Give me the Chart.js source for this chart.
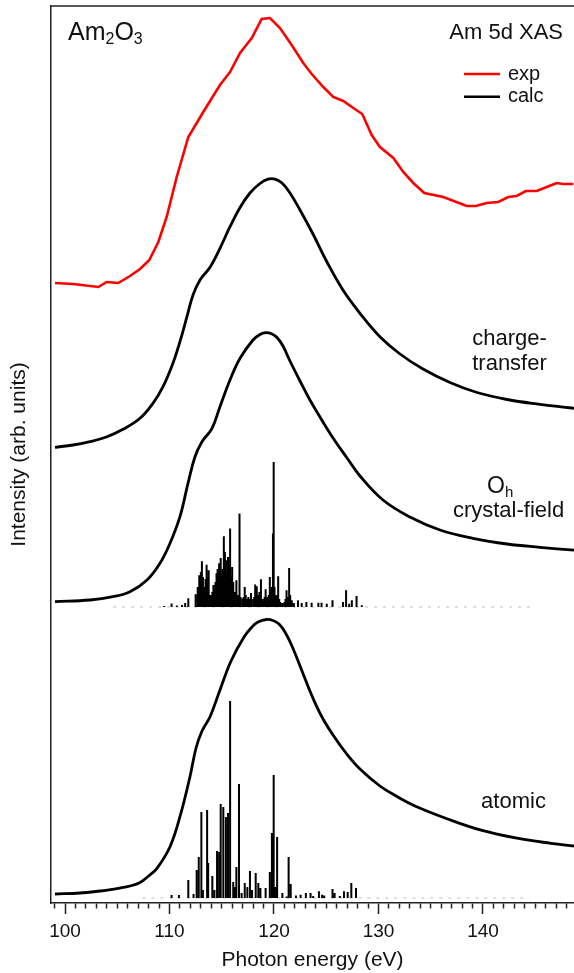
<!DOCTYPE html>
<html>
<head>
<meta charset="utf-8">
<title>Am 5d XAS</title>
<script src="https://cdn.jsdelivr.net/npm/chart.js@4.4.1/dist/chart.umd.min.js"></script>
<style>
  html, body { margin: 0; padding: 0; background: #fff; }
</style>
</head>
<body>
<canvas id="myChart" width="574" height="973"></canvas>
<script>
// Experimental spectrum (red)
const expE = [99.04, 100.79, 103.19, 103.99, 105.10, 106.22, 107.18, 108.07, 108.93, 109.73, 110.69, 111.80, 113.23, 114.83, 115.79, 116.75, 117.87, 118.82, 119.62, 120.57, 121.69, 122.80, 123.61, 124.72, 125.67, 126.63, 127.59, 128.45, 129.35, 130.14, 131.42, 132.37, 133.33, 134.38, 136.20, 138.44, 139.33, 140.35, 141.46, 142.42, 143.22, 144.11, 145.14, 146.10, 147.05, 147.68, 148.64];
const expI = [62.0, 61.9, 61.6, 62.1, 62.0, 62.7, 63.4, 64.3, 66.1, 68.6, 72.6, 76.6, 79.1, 81.8, 83.1, 85.0, 86.5, 88.4, 88.5, 87.5, 85.8, 84.0, 82.9, 81.6, 80.6, 80.2, 79.5, 78.9, 76.8, 75.6, 74.5, 73.1, 72.0, 71.0, 70.6, 69.7, 69.7, 70.0, 70.1, 70.6, 70.7, 71.2, 71.2, 71.6, 72.0, 71.9, 71.9];

// Charge-transfer calculation
const ctE = [99.04, 100.77, 102.39, 104.02, 105.55, 107.18, 108.42, 109.38, 110.33, 111.00, 111.67, 112.25, 112.92, 113.88, 114.83, 115.79, 116.75, 117.70, 118.66, 119.43, 120.10, 120.77, 121.53, 122.49, 123.73, 125.07, 126.60, 128.23, 130.14, 132.06, 134.26, 136.84, 139.43, 142.30, 145.45, 148.52, 148.71];
const ctI = [45.57, 45.8, 46.13, 46.63, 47.37, 48.47, 49.97, 51.63, 53.97, 56.13, 58.63, 60.8, 62.3, 63.57, 65.47, 67.63, 69.55, 71.0, 71.95, 72.38, 72.38, 72.0, 71.0, 69.3, 66.9, 64.1, 61.3, 58.97, 56.63, 54.9, 53.4, 52.05, 51.05, 50.35, 49.87, 49.5, 49.45];

// Oh crystal-field calculation
const ohE = [99.04, 102.39, 104.59, 106.22, 107.85, 109.09, 110.05, 111.00, 111.77, 112.44, 113.11, 114.07, 114.83, 115.79, 116.75, 117.99, 118.66, 119.23, 119.81, 120.29, 120.86, 121.53, 122.49, 123.44, 124.40, 125.65, 126.99, 128.23, 130.43, 133.01, 135.89, 139.04, 142.30, 145.45, 148.71];
const ohI = [30.13, 30.3, 30.63, 31.13, 32.3, 33.97, 35.97, 38.63, 41.97, 44.63, 46.13, 47.47, 49.63, 52.3, 54.47, 56.3, 56.85, 57.03, 56.9, 56.55, 55.7, 54.2, 52.2, 50.3, 48.6, 46.5, 44.5, 42.7, 40.3, 38.6, 37.3, 36.47, 35.9, 35.57, 35.28];
const ohBase = 29.6;
const ohStickE = [109.5, 110.2, 110.7, 111.2, 111.5, 111.8, 112.5, 112.7, 112.85, 112.95, 113.0, 113.1, 113.2, 113.35, 113.45, 113.55, 113.65, 113.75, 113.9, 114.0, 114.1, 114.2, 114.3, 114.4, 114.5, 114.6, 114.75, 114.85, 114.9, 115.0, 115.1, 115.2, 115.3, 115.4, 115.45, 115.5, 115.6, 115.65, 115.7, 115.8, 115.9, 116.0, 116.1, 116.2, 116.3, 116.4, 116.55, 116.7, 116.8, 117.0, 117.1, 117.2, 117.3, 117.4, 117.55, 117.7, 117.8, 118.0, 118.1, 118.2, 118.35, 118.5, 118.6, 118.75, 118.9, 119.0, 119.1, 119.2, 119.3, 119.4, 119.5, 119.6, 119.7, 119.8, 119.9, 119.97, 120.05, 120.15, 120.25, 120.4, 120.5, 120.6, 120.8, 121.0, 121.1, 121.2, 121.3, 121.45, 121.55, 121.7, 121.9, 122.3, 122.65, 123.1, 123.6, 124.25, 124.55, 125.05, 125.6, 126.6, 126.9, 127.2, 127.45, 127.9, 128.4];
const ohStickH = [0.1, 0.34, 0.15, 0.2, 0.4, 0.87, 1.27, 2.0, 3.17, 2.5, 3.5, 4.57, 3.0, 2.0, 2.8, 4.23, 3.0, 3.67, 1.2, 1.0, 1.5, 2.2, 1.8, 2.5, 3.37, 3.8, 4.37, 4.0, 4.9, 3.0, 3.8, 7.07, 5.5, 4.67, 3.5, 3.0, 5.0, 4.2, 3.5, 7.84, 3.0, 4.0, 2.5, 1.5, 1.5, 2.67, 1.2, 9.34, 1.0, 0.84, 1.0, 2.0, 1.2, 0.8, 1.0, 0.8, 1.4, 0.8, 1.0, 2.24, 2.07, 1.2, 1.5, 2.77, 0.8, 0.6, 1.0, 1.77, 0.8, 1.0, 1.2, 3.0, 1.5, 2.0, 7.34, 14.5, 2.0, 1.0, 1.2, 3.07, 0.8, 0.5, 0.4, 0.5, 0.8, 1.67, 1.0, 3.9, 1.2, 0.67, 0.4, 0.67, 0.4, 0.5, 0.43, 0.43, 0.43, 0.33, 0.67, 0.5, 1.67, 0.33, 0.67, 1.1, 0.17];
const ohFaint = [104.6, 144.5];

// Atomic calculation
const atE = [99.04, 101.44, 103.35, 105.26, 106.22, 107.18, 108.00, 108.80, 110.05, 111.00, 111.96, 112.54, 113.11, 113.88, 114.83, 115.89, 117.13, 117.89, 118.47, 119.28, 119.90, 120.48, 121.05, 121.72, 122.68, 123.64, 124.59, 125.65, 126.89, 128.23, 130.14, 131.77, 133.49, 136.75, 140.00, 143.25, 146.51, 148.71];
const atI = [0.9, 1.0, 1.2, 1.5, 1.7, 2.05, 2.7, 3.47, 5.63, 8.63, 12.63, 15.5, 17.2, 18.63, 21.3, 24.2, 26.6, 27.6, 28.1, 28.35, 28.25, 27.9, 27.1, 25.7, 23.2, 20.7, 18.6, 16.8, 15.0, 13.4, 11.7, 10.65, 9.7, 8.35, 7.23, 6.48, 5.97, 5.7];
const atBase = 0.5;
const atStickE = [110.2, 110.9, 111.8, 112.3, 112.6, 112.8, 113.05, 113.2, 113.6, 113.7, 114.1, 114.3, 114.55, 114.75, 114.9, 115.15, 115.4, 115.6, 115.8, 116.1, 116.25, 116.4, 116.65, 116.9, 117.2, 117.45, 117.7, 117.9, 118.25, 118.5, 118.7, 119.2, 119.6, 119.8, 119.97, 120.15, 120.3, 120.8, 121.2, 121.4, 121.6, 122.1, 122.55, 123.05, 123.5, 123.75, 124.3, 124.6, 124.8, 125.6, 125.8, 126.3, 126.7, 127.05, 127.4, 127.85];
const atStickH = [0.3, 0.3, 1.8, 0.4, 2.8, 4.1, 8.6, 0.8, 8.8, 3.5, 2.2, 0.8, 4.7, 4.6, 9.4, 9.1, 8.1, 8.5, 19.7, 1.6, 1.1, 3.1, 11.4, 0.5, 1.5, 1.1, 2.7, 0.8, 2.5, 1.5, 1.0, 1.0, 2.6, 6.5, 12.3, 1.1, 6.1, 0.5, 0.15, 4.1, 1.4, 0.25, 0.33, 0.5, 0.5, 0.2, 0.67, 0.33, 0.25, 0.9, 0.5, 0.2, 0.67, 0.6, 1.5, 1.0];
const atFaint = [107.4, 144.2];

// Axis range (eV)
const xMin = 98.66;
const xMax = 148.71;

const FONT = "'Liberation Sans', Arial, Helvetica, sans-serif";
const INK = '#111';

function pairs(xs, ys) {
    return xs.map((x, i) => ({ x: x, y: ys[i] }));
}

// Each stick: baseline -> top, then a gap
function sticks(xs, hs, base) {
    const out = [];
    xs.forEach((x, i) => {
        out.push({ x: x, y: base }, { x: x, y: base + hs[i] }, { x: x, y: null });
    });
    return out;
}

function curve(label, data, color, width) {
    return {
        label: label,
        data: data,
        borderColor: color,
        borderWidth: width,
        pointRadius: 0,
        fill: false,
        tension: 0.4
    };
}

function stickSet(label, data) {
    return { label: label, data: data, borderColor: '#000000', borderWidth: 2, pointRadius: 0, spanGaps: false, tension: 0 };
}

function faintSet(label, range, base) {
    return { label: label, data: range.map(e => ({ x: e, y: base })), borderColor: '#bdbdbd', borderWidth: 1.2, borderDash: [3, 6], pointRadius: 0, tension: 0 };
}

// Texts and legend drawn on top of the chart
const notesPlugin = {
    id: 'notes',
    afterDraw(chart) {
        const c = chart.ctx;
        const area = chart.chartArea;
        c.save();

        // top frame line
        c.strokeStyle = '#222';
        c.lineWidth = 1.5;
        c.beginPath();
        c.moveTo(area.left, area.top);
        c.lineTo(area.right, area.top);
        c.stroke();

        c.fillStyle = INK;
        c.textBaseline = 'alphabetic';

        // Am2O3 with subscripts
        let x = 68;
        const parts = [['Am', 25, 39.5], ['2', 16, 44], ['O', 25, 39.5], ['3', 16, 44]];
        c.textAlign = 'left';
        parts.forEach(p => {
            c.font = p[1] + 'px ' + FONT;
            c.fillText(p[0], x, p[2]);
            x += c.measureText(p[0]).width;
        });

        c.font = '22px ' + FONT;
        c.textAlign = 'right';
        c.fillText('Am 5d XAS', 563, 38.5);

        // legend
        c.lineWidth = 2.6;
        c.strokeStyle = chart.data.datasets[0].borderColor;
        c.beginPath(); c.moveTo(464, 74); c.lineTo(500, 74); c.stroke();
        c.strokeStyle = chart.data.datasets[1].borderColor;
        c.beginPath(); c.moveTo(464, 96.7); c.lineTo(500, 96.7); c.stroke();
        c.font = '20px ' + FONT;
        c.textAlign = 'left';
        c.fillText('exp', 508, 80);
        c.fillText('calc', 508, 101.5);

        // curve labels
        c.font = '22px ' + FONT;
        c.textAlign = 'center';
        c.fillText('charge-', 509.5, 345);
        c.fillText('transfer', 509.5, 370);
        c.fillText('crystal-field', 508.5, 517);
        c.fillText('atomic', 513.5, 808);

        c.textAlign = 'left';
        c.font = '23px ' + FONT;
        c.fillText('O', 487, 493);
        const ow = c.measureText('O').width;
        c.font = '15px ' + FONT;
        c.fillText('h', 487 + ow, 497);

        c.restore();
    }
};

const ctx = document.getElementById('myChart').getContext('2d');
const myChart = new Chart(ctx, {
    type: 'line',
    data: {
        datasets: [
            { label: 'exp', data: pairs(expE, expI), borderColor: '#ff0000', borderWidth: 2.6, pointRadius: 0, fill: false, tension: 0 },
            curve('charge-transfer', pairs(ctE, ctI), '#000000', 2.8),
            curve('Oh crystal-field', pairs(ohE, ohI), '#000000', 2.8),
            stickSet('Oh lines', sticks(ohStickE, ohStickH, ohBase)),
            faintSet('Oh faint', ohFaint, ohBase),
            curve('atomic', pairs(atE, atI), '#000000', 2.8),
            stickSet('atomic lines', sticks(atStickE, atStickH, atBase)),
            faintSet('atomic faint', atFaint, atBase)
        ]
    },
    options: {
        responsive: false,
        animation: false,
        devicePixelRatio: 1,
        layout: { padding: { top: 6, right: 0, bottom: 0, left: 0 } },
        plugins: {
            legend: { display: false },
            tooltip: { enabled: false }
        },
        scales: {
            x: {
                type: 'linear',
                min: xMin,
                max: xMax,
                border: { color: '#222', width: 1.5 },
                grid: {
                    drawOnChartArea: false,
                    tickLength: 11,
                    tickWidth: 1.5,
                    tickColor: '#222',
                    // minor ticks are cut short with a dash
                    tickBorderDash: c => (Math.round(c.tick.value) % 10 === 0 ? [] : [5, 30])
                },
                ticks: {
                    stepSize: 1,
                    autoSkip: false,
                    maxRotation: 0,
                    includeBounds: false,
                    maxTicksLimit: 200,
                    padding: 6,
                    color: INK,
                    font: { family: FONT, size: 19 },
                    callback: v => (Math.round(v) % 10 === 0 ? String(Math.round(v)) : '')
                },
                title: {
                    display: true,
                    text: 'Photon energy (eV)',
                    color: INK,
                    font: { family: FONT, size: 21 },
                    padding: { top: 0, bottom: 0 }
                },
                afterFit: s => { s.height = 70; }
            },
            y: {
                min: 0,
                max: 89.7,
                border: { color: '#222', width: 1.5 },
                grid: { display: false },
                ticks: { display: false },
                title: {
                    display: true,
                    text: 'Intensity (arb. units)',
                    color: INK,
                    font: { family: FONT, size: 21 },
                    padding: { top: 7, bottom: 0 }
                },
                afterFit: s => { s.width = 51; }
            }
        }
    },
    plugins: [notesPlugin]
});
</script>
</body>
</html>
